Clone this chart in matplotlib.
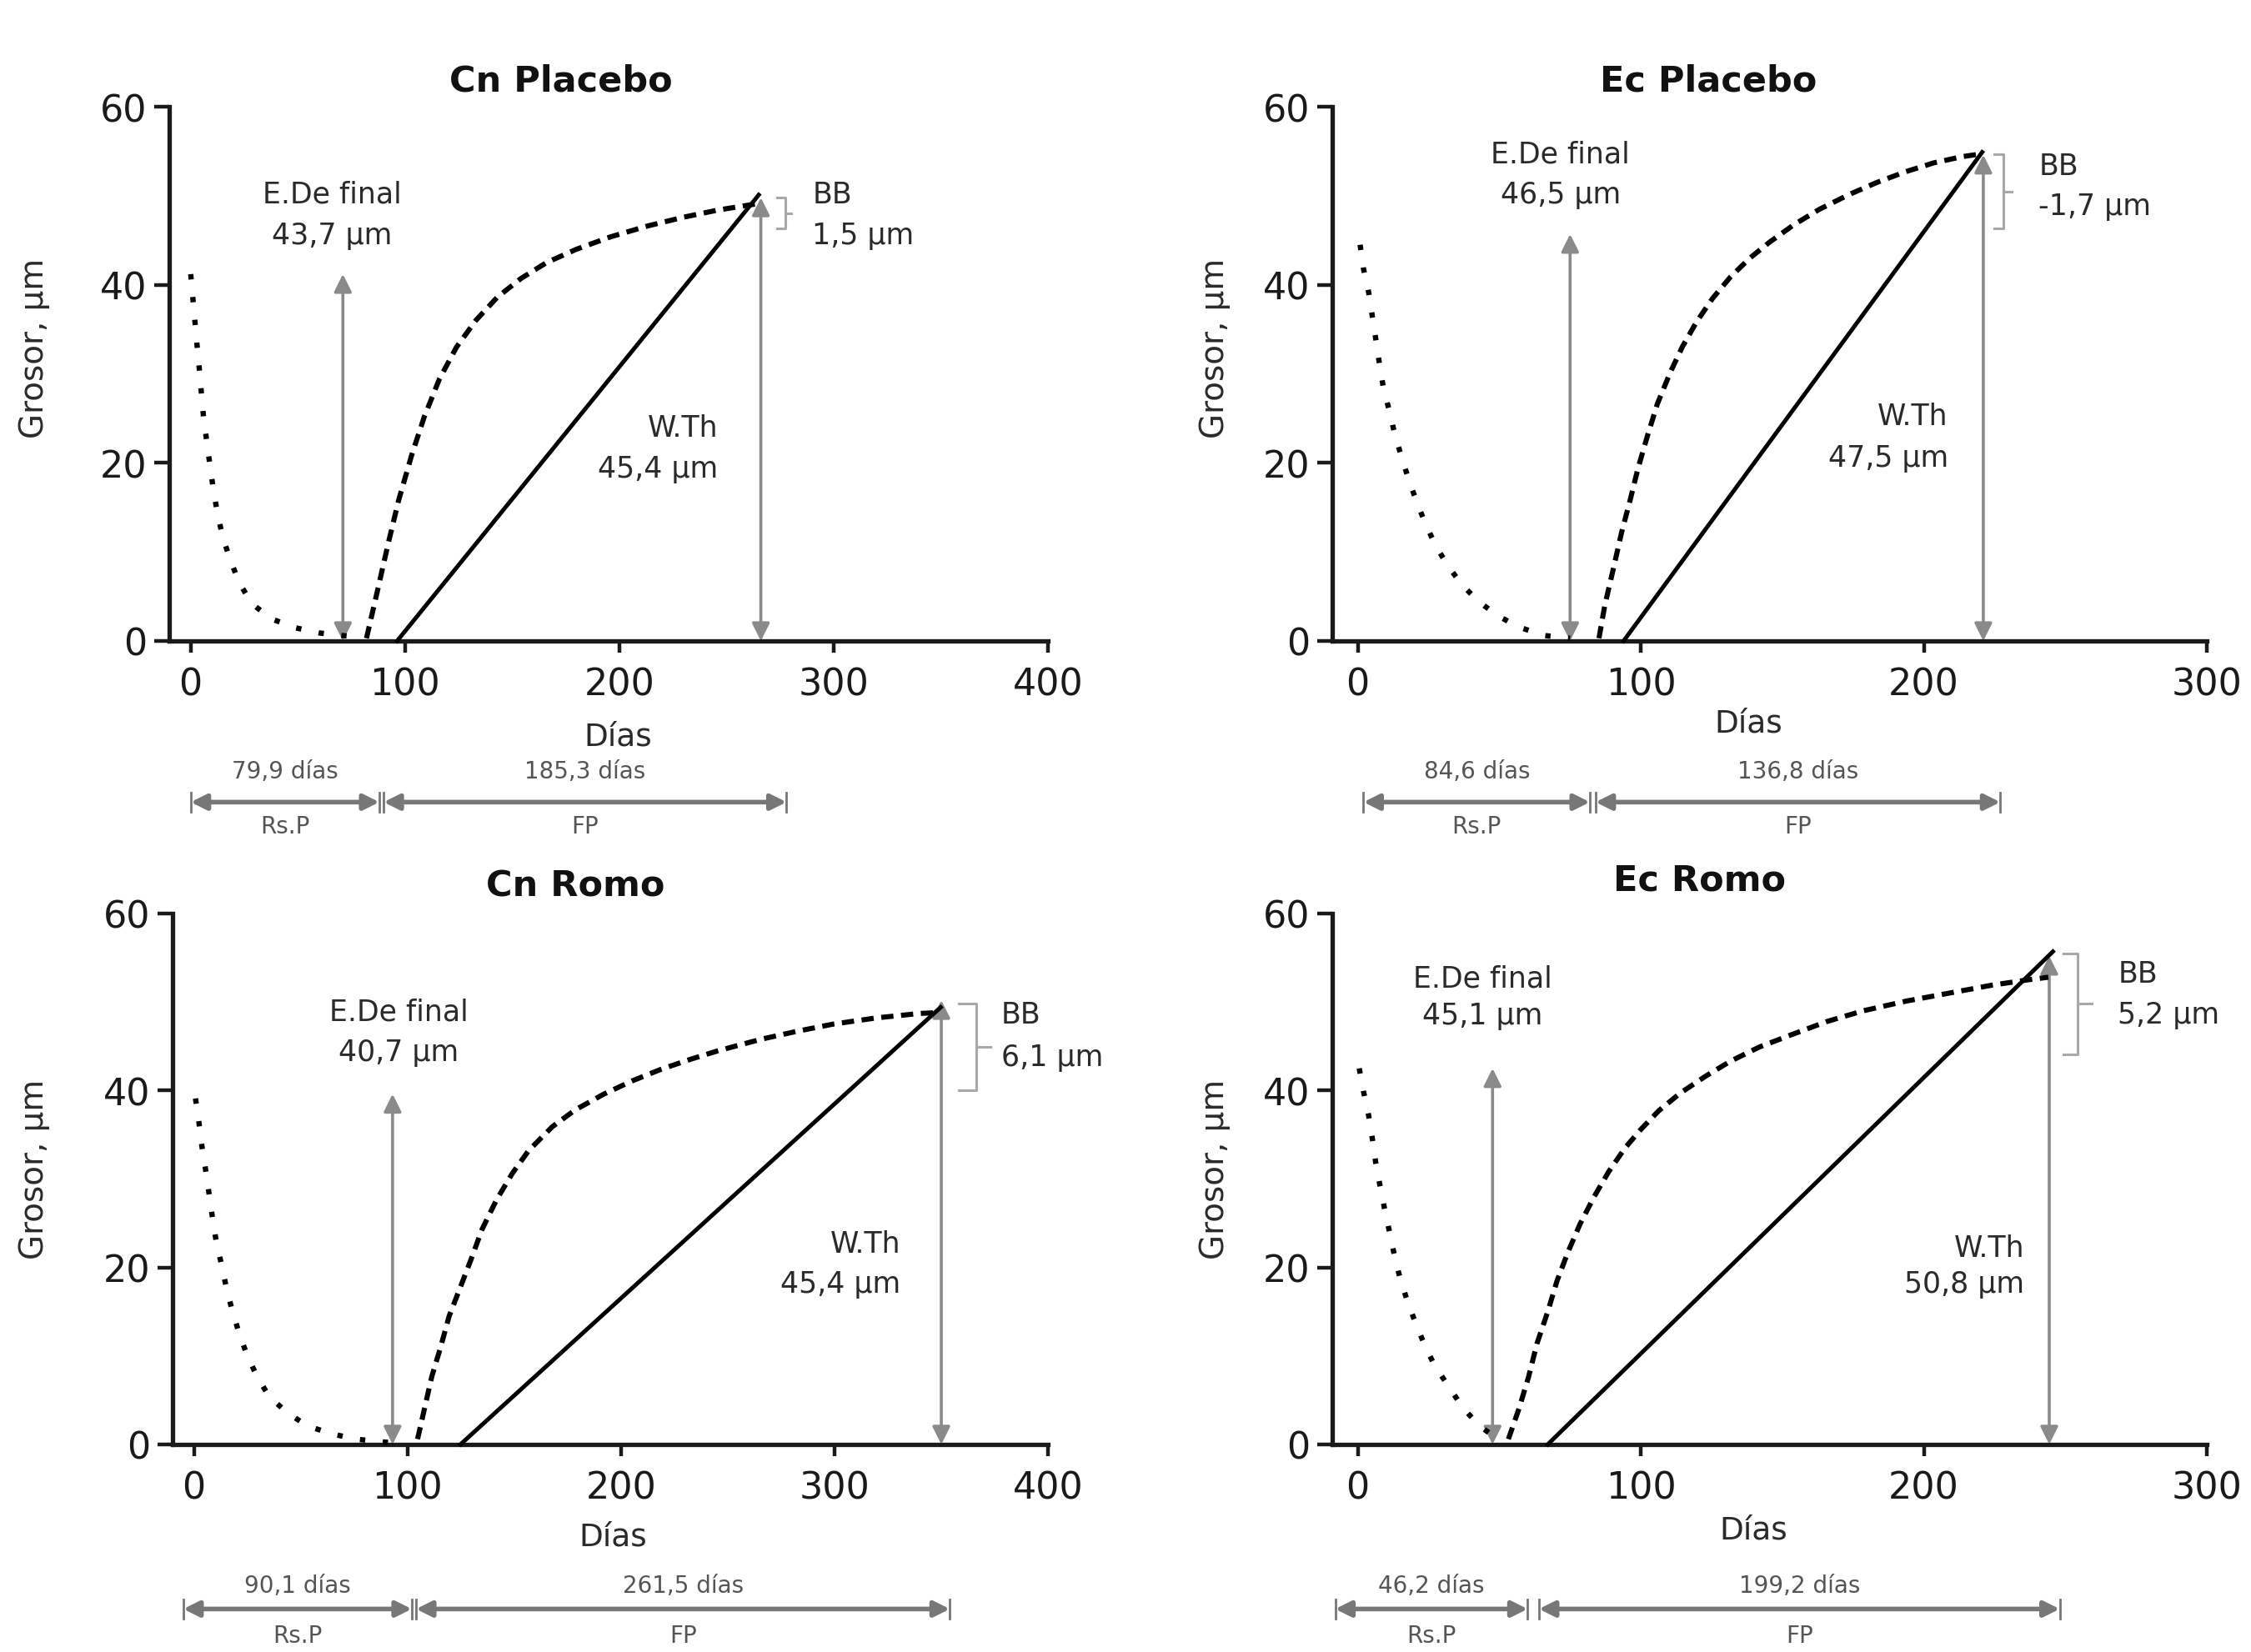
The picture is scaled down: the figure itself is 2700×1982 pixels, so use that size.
import matplotlib

matplotlib.use("Agg")
import matplotlib.pyplot as plt

plt.rcParams["font.family"] = ["DejaVu Sans"]

# ── Data ────────────────────────────────────────────────────
titles = ["Cn Placebo", "Ec Placebo", "Cn Romo", "Ec Romo"]
x_max = [400, 300, 400, 300]
x_min = [-10, -9, -10, -9]

# dotted curve (resorption)
cn_plac_dot_x = [0, 1, 2, 3, 4, 5, 6, 7.5, 9, 10.5, 12.5, 15, 18.5, 22.5, 28.5, 37.5, 48.5, 60, 71, 80]
cn_plac_dot_y = [41.2, 38.5, 35.8, 33.1, 30.6, 27.8, 25.1, 22.4, 19.7, 17.1, 14.3, 11.6, 9.1, 6.6, 4.2, 2.5, 1.5, 0.9, 0.6, 0.4]
ec_plac_dot_x = [0.8, 2, 3.8, 5.1, 6.3, 7.6, 9, 11, 13, 15.4, 17.9, 20.7, 23.7, 27.5, 31.7, 36.8, 42.8, 49.6, 57.4, 66.2, 75]
ec_plac_dot_y = [44.5, 41.8, 39.2, 36.5, 34, 31.2, 28.5, 26, 23.3, 20.7, 18.2, 15.7, 13.3, 10.7, 8.5, 6.3, 4.4, 2.8, 1.5, 0.6, 0.3]
cn_romo_dot_x = [0.7, 2.3, 3.7, 5.4, 7, 8.6, 10.3, 12.8, 15.1, 17.8, 21.1, 24.8, 29.5, 35.2, 43.6, 53, 64.4, 75.8, 87.2, 98]
cn_romo_dot_y = [39.1, 36.4, 33.7, 31.1, 28.4, 25.7, 23.1, 20.4, 17.8, 15.2, 12.6, 10.1, 7.7, 5.4, 3.6, 2.1, 1.2, 0.6, 0.3, 0.1]
ec_romo_dot_x = [0.5, 2, 3.8, 5.1, 6.3, 7.8, 9.4, 11.2, 12.9, 14.9, 17.5, 20.3, 23.5, 27.3, 32.2, 37.2, 43, 49.4]
ec_romo_dot_y = [42.5, 39.9, 37.2, 34.6, 31.9, 29.3, 26.7, 24, 21.4, 18.8, 16.2, 13.8, 11.3, 8.8, 6.5, 4.1, 2.1, 0.6]

# dashed curve (formation)
cn_plac_dash_x = [82, 87, 92, 97, 103, 109, 116, 124, 133, 143, 154, 166, 180, 196, 213, 230, 246, 264]
cn_plac_dash_y = [0.3, 5.5, 10.8, 15.8, 20.8, 25.2, 29.4, 33.0, 36.0, 38.6, 40.7, 42.5, 44.0, 45.4, 46.6, 47.6, 48.4, 49.1]
ec_plac_dash_x = [85.2, 87.2, 90.2, 93.2, 96.2, 99, 102.3, 105.8, 110.3, 114.6, 119.6, 125.4, 131.7, 138.5,
                  145.5, 154.3, 163.2, 173.3, 183.4, 193.5, 203.5, 213.6, 220]
ec_plac_dash_y = [0.3, 3.9, 8, 12.2, 15.8, 19.4, 23, 26.6, 30.1, 33.0, 35.8, 38.5, 40.9, 43.0,
                  44.8, 46.8, 48.5, 50.1, 51.5, 52.7, 53.7, 54.4, 54.7]
cn_romo_dash_x = [104.7, 108, 111.4, 115.4, 119.5, 124.8, 129.9, 134.9, 141.6, 149, 156.7, 167.8, 178.5, 192,
                  205.4, 218.8, 232.2, 245.6, 265.8, 282.6, 299.3, 319.5, 339.6, 348]
cn_romo_dash_y = [0.6, 4.1, 7.7, 10.9, 14.5, 17.8, 21, 24.3, 27.6, 30.6, 33.2, 35.9, 37.8, 39.6,
                  41.1, 42.4, 43.5, 44.5, 45.8, 46.7, 47.5, 48.2, 48.7, 48.8]
ec_romo_dash_x = [53.2, 57, 60.3, 63.3, 67.1, 70.4, 74.2, 78.5, 83.5, 88.6, 94.4, 100, 106.3, 113.9, 122.8,
                  131.6, 141.8, 153.2, 165.8, 178.5, 193.7, 208.9, 224, 236.7, 244]
ec_romo_dash_y = [0.6, 4.1, 7.6, 11.4, 15, 18.5, 21.7, 24.9, 28.0, 30.8, 33.5, 35.6, 37.7, 39.7, 41.6,
                  43.3, 44.9, 46.3, 47.8, 49, 50.1, 51, 51.9, 52.5, 52.8]

# solid line (start, end)
line_x = [[96.3, 265], [93.9, 220.6], [124.8, 349.7], [67.1, 245.6]]
line_y = [[0, 50.1], [0, 54.9], [0, 49.4], [0, 55.7]]

# vertical double arrows
ede_x = [71, 75, 93, 47.6]
ede_top = [41.2, 45.7, 39.6, 42.5]
ede_text = ["43,7 µm", "46,5 µm", "40,7 µm", "45,1 µm"]
wth_x = [266, 221, 350, 244.3]
wth_top = [49.8, 54.6, 50.2, 55.2]
wth_text = ["45,4 µm", "47,5 µm", "45,4 µm", "50,8 µm"]

# BB brackets
bb_text = ["1,5 µm", "-1,7 µm", "6,1 µm", "5,2 µm"]
bb_low = [46.3, 46.3, 40.0, 44.1]
bb_high = [49.8, 54.7, 49.8, 55.5]
bb_x = [277.5, 228.2, 366.4, 254.4]

# phase durations below the x axis
rsp_days = ["79,9 días", "84,6 días", "90,1 días", "46,2 días"]
fp_days = ["185,3 días", "136,8 días", "261,5 días", "199,2 días"]
rsp_span = [(0, 88), (2, 82), (-5, 102), (-8, 60)]
fp_span = [(90, 278), (84, 227), (104, 354), (64, 248)]

dot_x = [cn_plac_dot_x, ec_plac_dot_x, cn_romo_dot_x, ec_romo_dot_x]
dot_y = [cn_plac_dot_y, ec_plac_dot_y, cn_romo_dot_y, ec_romo_dot_y]
dash_x = [cn_plac_dash_x, ec_plac_dash_x, cn_romo_dash_x, ec_romo_dash_x]
dash_y = [cn_plac_dash_y, ec_plac_dash_y, cn_romo_dash_y, ec_romo_dash_y]

# ── Layout ──────────────────────────────────────────────────
axes_rect = [
    [0.0752, 0.6117, 0.3904, 0.3232],
    [0.5919, 0.6117, 0.3885, 0.3232],
    [0.0767, 0.1256, 0.3889, 0.3212],
    [0.5919, 0.1256, 0.3885, 0.3212],
]
title_xy = [(0.446, 1.050), (0.430, 1.050), (0.460, 1.052), (0.420, 1.064)]
ylabel_xy = [(-0.136, 0.55), (-0.116, 0.55), (-0.140, 0.52), (-0.116, 0.52)]
xlabel_xy = [(0.511, -0.151), (0.476, -0.126), (0.503, -0.146), (0.482, -0.133)]
ede_lbl = [(66, 50.2, 45.6), (71.6, 54.7, 50.2), (96, 48.9, 44.4), (44, 52.7, 48.5)]
bb_lbl = [(290, 50.2, 45.6), (240.6, 53.4, 48.9), (378, 48.6, 43.8), (268.5, 53.2, 48.6)]
wth_lbl = [(246, 24.0, 19.4), (208.6, 25.3, 20.6), (331, 22.7, 18.2), (235.5, 22.2, 18.2)]
bb_tick = [(4, 2.5), (3.2, 2.8), (8.4, 6.6), (5, 5)]
bottom_y = [(-14.6, -18.1, -20.8), (-14.6, -18.1, -20.8), (-15.9, -18.6, -21.6), (-15.9, -18.6, -21.6)]

GRAY = "#8a8a8a"
TXT = "#2a2a2a"

fig = plt.figure(figsize=(27, 19.83), dpi=100)

for i in range(4):
    ax = fig.add_axes(axes_rect[i])
    ax.set_xlim(x_min[i], x_max[i])
    ax.set_ylim(0, 60)
    ax.set_xticks(range(0, x_max[i] + 1, 100))
    ax.set_yticks([0, 20, 40, 60])
    for side in ("top", "right"):
        ax.spines[side].set_visible(False)
    for side in ("left", "bottom"):
        ax.spines[side].set_linewidth(3.8)
        ax.spines[side].set_color("#1a1a1a")
    ax.tick_params(axis="x", direction="out", length=10, width=3.2, labelsize=32, pad=12,
                   color="#1a1a1a", labelcolor="#1a1a1a")
    ax.tick_params(axis="y", direction="out", length=13, width=3.2, labelsize=32, pad=6,
                   color="#1a1a1a", labelcolor="#1a1a1a")

    ax.text(title_xy[i][0], title_xy[i][1], titles[i], transform=ax.transAxes,
            ha="center", va="center", fontsize=31, fontweight="bold", color="#111111")
    ax.set_ylabel("Grosor, µm", fontsize=28, color=TXT)
    ax.yaxis.set_label_coords(*ylabel_xy[i])
    ax.set_xlabel("Días", fontsize=27, color=TXT)
    ax.xaxis.set_label_coords(*xlabel_xy[i])

    # curves
    ax.plot(dot_x[i], dot_y[i], color="black", lw=4.6, linestyle=(0, (1, 3.3)),
            clip_on=False, zorder=4)
    ax.plot(dash_x[i], dash_y[i], color="black", lw=4.4, linestyle=(0, (2.4, 1.5)),
            clip_on=False, zorder=4)
    ax.plot(line_x[i], line_y[i], color="black", lw=3.6, clip_on=False, zorder=4)

    # vertical gray arrows
    arrow_kw = dict(arrowstyle="<|-|>", color=GRAY, lw=2.6, mutation_scale=32,
                    shrinkA=0, shrinkB=0)
    ax.annotate("", xy=(ede_x[i], ede_top[i]), xytext=(ede_x[i], 0),
                arrowprops=arrow_kw, annotation_clip=False, zorder=2)
    ax.annotate("", xy=(wth_x[i], wth_top[i]), xytext=(wth_x[i], 0),
                arrowprops=arrow_kw, annotation_clip=False, zorder=2)

    # BB bracket
    left, nub = bb_tick[i]
    mid = (bb_low[i] + bb_high[i]) / 2
    ax.plot([bb_x[i] - left, bb_x[i], bb_x[i], bb_x[i] - left],
            [bb_high[i], bb_high[i], bb_low[i], bb_low[i]],
            color="#a8a8a8", lw=2.2, clip_on=False)
    ax.plot([bb_x[i], bb_x[i] + nub], [mid, mid], color="#a8a8a8", lw=2.2, clip_on=False)

    # labels
    x, y1, y2 = ede_lbl[i]
    ax.text(x, y1, "E.De final", ha="center", va="center", fontsize=25, color=TXT)
    ax.text(x, y2, ede_text[i], ha="center", va="center", fontsize=25, color=TXT)
    x, y1, y2 = bb_lbl[i]
    ax.text(x, y1, "BB", ha="left", va="center", fontsize=25, color=TXT)
    ax.text(x, y2, bb_text[i], ha="left", va="center", fontsize=25, color=TXT)
    x, y1, y2 = wth_lbl[i]
    ax.text(x, y1, "W.Th", ha="right", va="center", fontsize=25, color=TXT)
    ax.text(x, y2, wth_text[i], ha="right", va="center", fontsize=25, color=TXT)

    # phase arrows below the axis
    ty, ay, ly = bottom_y[i]
    for span, top_txt, low_txt in ((rsp_span[i], rsp_days[i], "Rs.P"),
                                   (fp_span[i], fp_days[i], "FP")):
        ax.annotate("", xy=(span[1], ay), xytext=(span[0], ay),
                    arrowprops=dict(arrowstyle="<|-|>", color="#777777", lw=4,
                                    mutation_scale=28, shrinkA=0, shrinkB=0),
                    annotation_clip=False)
        for end in span:
            ax.plot([end, end], [ay - 1.1, ay + 1.1], color="#777777", lw=2,
                    clip_on=False)
        cx = (span[0] + span[1]) / 2
        ax.text(cx, ty, top_txt, ha="center", va="center", fontsize=20, color="#555555",
                clip_on=False)
        ax.text(cx, ly, low_txt, ha="center", va="center", fontsize=20, color="#555555",
                clip_on=False)

fig.savefig("out.png", dpi=100, facecolor="white")
plt.close(fig)
